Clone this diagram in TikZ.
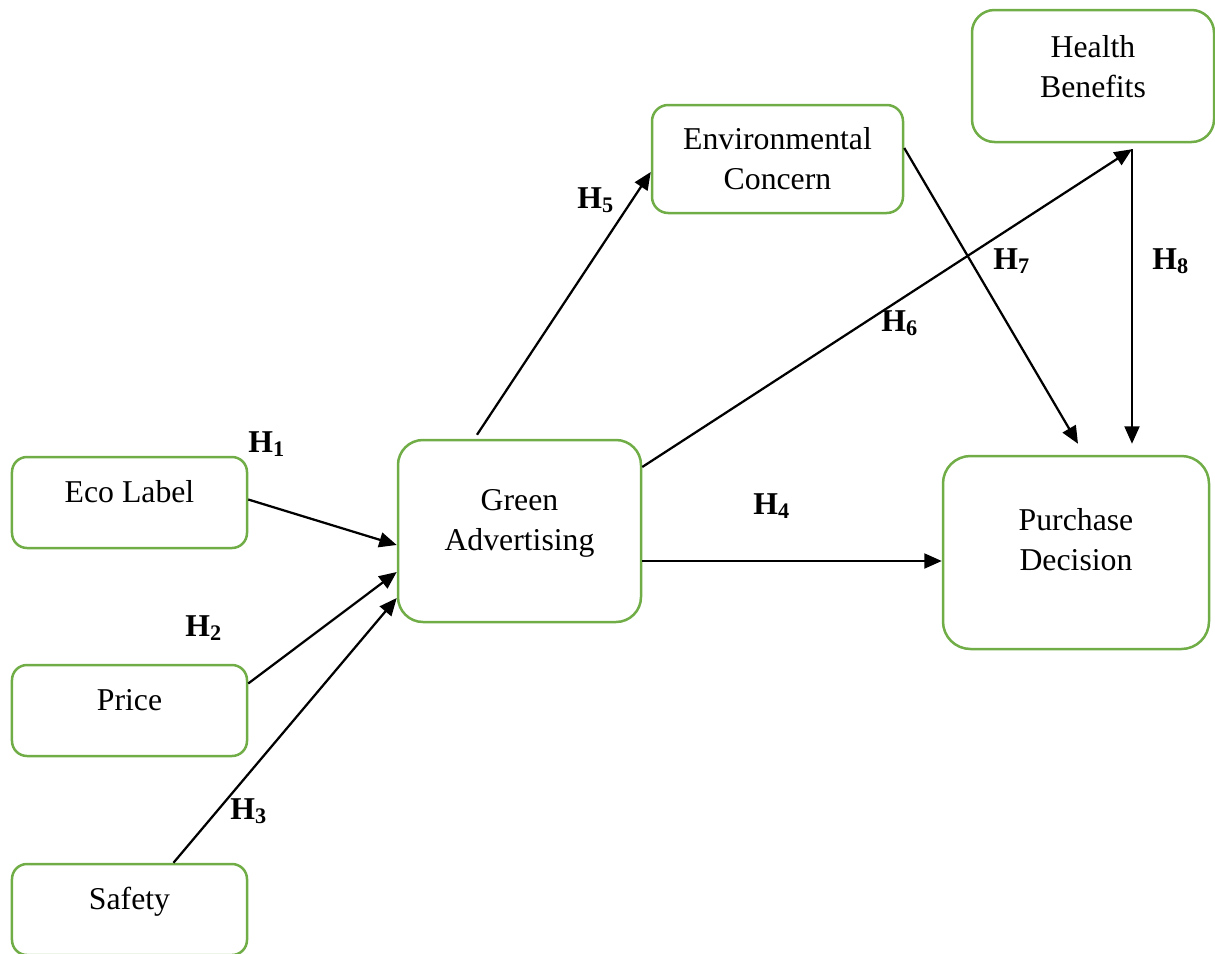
\documentclass[tikz,border=0pt]{standalone}
\usepackage{fontspec}
\setmainfont{Liberation Serif}
\usetikzlibrary{arrows.meta,calc}
\definecolor{leafgreen}{RGB}{112,173,71}

\begin{document}
\begin{tikzpicture}[x=0.4pt,y=-0.4pt,
    font=\fontsize{12.7}{16}\selectfont,
    factor/.style={draw=leafgreen, line width=1pt, rectangle, align=center, inner sep=0pt},
    oneline/.style={minimum width=94pt, minimum height=36.4pt, rounded corners=6pt, text height=9pt, text depth=9pt},
    twoline/.style={text height=24pt},
    hyp/.style={font=\fontsize{12.7}{16}\selectfont\bfseries},
    arr/.style={-{Triangle[length=7pt,width=6pt]}, line width=0.9pt}]
    \useasboundingbox (0,0) rectangle (1215,954);

    % independent variables
    \node[factor, oneline] (eco) at (129.5,502.5) {Eco Label};
    \node[factor, oneline] (price) at (129.5,710.5) {Price};
    \node[factor, oneline] (safety) at (129.5,909.5) {Safety};

    % mediators and outcome
    \node[factor, twoline, minimum width=97.2pt, minimum height=72.8pt, rounded corners=10pt, text depth=8.8pt] (ga) at (519.5,531) {Green\\Advertising};
    \node[factor, twoline, minimum width=100.4pt, minimum height=43.2pt, rounded corners=6.5pt, text depth=0pt] (envc) at (777.5,159) {Environmental\\Concern};
    \node[factor, twoline, minimum width=96.8pt, minimum height=52.8pt, rounded corners=9pt, text depth=7.2pt] (hb) at (1093,76) {Health\\Benefits};
    \node[factor, twoline, minimum width=106.4pt, minimum height=77.2pt, rounded corners=11pt, text depth=10pt] (pd) at (1076,552.5) {Purchase\\Decision};

    % paths
    \draw[arr] ($(eco.east)+(0,-3)$) -- ($(ga.west)+(0,14)$);
    \draw[arr] ($(price.east)+(0,-27)$) -- ($(ga.west)+(0,41)$);
    \draw[arr] ($(safety.north)+(44,0)$) -- ($(ga.west)+(0,67)$);
    \draw[arr] ($(ga.east)+(0,30)$) -- ($(pd.west)+(0,8.5)$);
    \draw[arr] ($(ga.north)+(-42.5,-4)$) -- ($(envc.west)+(0,13)$);
    \coordinate (hbfoot) at ($(hb.south)+(39,6)$);
    \draw[arr] ($(ga.east)+(0,-64)$) -- (hbfoot);
    \draw[arr] ($(envc.east)+(0,-11)$) -- ($(pd.north)+(2,-11)$);
    \draw[arr] (hbfoot) -- ($(pd.north)+(56,-11)$);

    % hypothesis labels
    \node[hyp] (h1) at (267,444) {H\textsubscript{1}};
    \node[hyp] (h2) at (204,628) {H\textsubscript{2}};
    \node[hyp] (h3) at (249,811) {H\textsubscript{3}};
    \node[hyp] (h4) at (772,506) {H\textsubscript{4}};
    \node[hyp] (h5) at (596,200) {H\textsubscript{5}};
    \node[hyp] (h6) at (900,323) {H\textsubscript{6}};
    \node[hyp] (h7) at (1012,261) {H\textsubscript{7}};
    \node[hyp] (h8) at (1171,261) {H\textsubscript{8}};
\end{tikzpicture}
\end{document}
